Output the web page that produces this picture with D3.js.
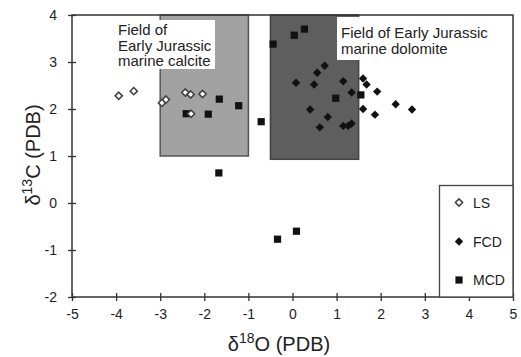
<!DOCTYPE html>
<html>
<head>
<meta charset="utf-8">
<script src="https://cdn.jsdelivr.net/npm/d3@7"></script>
<style>
  body { margin: 0; background: #fff; }
  svg text { font-family: "Liberation Sans", Arial, sans-serif; fill: #222; }
</style>
</head>
<body>
<div id="chart"></div>
<script>
// Isotope data: [d18O, d13C]
const lsPoints = [
  [-3.94, 2.28], [-3.60, 2.38], [-2.96, 2.13], [-2.87, 2.20],
  [-2.43, 2.35], [-2.31, 2.31], [-2.04, 2.32], [-2.30, 1.90]
];
const fcdPoints = [
  [0.73, 2.92], [0.56, 2.77], [0.08, 2.56], [0.49, 2.52], [1.15, 2.59],
  [1.60, 2.65], [1.68, 2.52], [1.34, 2.35], [1.92, 2.37], [2.34, 2.10],
  [2.71, 1.99], [1.60, 2.00], [1.87, 1.88], [0.40, 1.99], [0.80, 1.83],
  [0.62, 1.61], [1.15, 1.64], [1.26, 1.64], [1.34, 1.69]
];
const mcdPoints = [
  [-1.66, 2.21], [-1.22, 2.07], [-2.41, 1.90], [-1.91, 1.89], [-0.71, 1.73],
  [-1.67, 0.64], [-0.34, -0.77], [0.09, -0.60], [-0.44, 3.38], [0.04, 3.57],
  [0.27, 3.70], [0.98, 2.23], [1.55, 2.30]
];
// Reference fields: [x0, x1, y0, y1]
const calciteField = [-3, -1, 1, 4];
const dolomiteField = [-0.5, 1.5, 0.93, 4];
const xTicks = [-5, -4, -3, -2, -1, 0, 1, 2, 3, 4, 5];
const yTicks = [-2, -1, 0, 1, 2, 3, 4];
const legendItems = ['LS', 'FCD', 'MCD'];

const width = 521, height = 357;
const margin = { left: 72, right: 8, top: 15, bottom: 60 };
const font = '"Liberation Sans", Arial, sans-serif';
const fmt = d => String(d); // plain hyphen minus, as in the figure

const svg = d3.select('#chart').append('svg')
  .attr('width', width)
  .attr('height', height);

const x = d3.scaleLinear().domain([-5, 5]).range([margin.left, width - margin.right]);
const y = d3.scaleLinear().domain([-2, 4]).range([height - margin.bottom, margin.top]);

// Shaded fields
svg.append('rect')
  .attr('x', x(calciteField[0])).attr('y', y(calciteField[3]))
  .attr('width', x(calciteField[1]) - x(calciteField[0]))
  .attr('height', y(calciteField[2]) - y(calciteField[3]))
  .attr('fill', '#a2a2a2').attr('stroke', '#555').attr('stroke-width', 1.5);

svg.append('rect')
  .attr('x', x(dolomiteField[0])).attr('y', y(dolomiteField[3]))
  .attr('width', x(dolomiteField[1]) - x(dolomiteField[0]))
  .attr('height', y(dolomiteField[2]) - y(dolomiteField[3]))
  .attr('fill', '#5e5e5e').attr('stroke', '#444').attr('stroke-width', 1.5);

// Field labels on white boxes
svg.append('rect').attr('x', 115).attr('y', 20).attr('width', 100).attr('height', 49).attr('fill', '#fff');
const calciteLabel = svg.append('text').attr('x', 118).attr('y', 35).style('font-size', '15px');
['Field of', 'Early Jurassic', 'marine calcite'].forEach((t, i) => {
  calciteLabel.append('tspan').attr('x', 118).attr('dy', i ? 15.5 : 0).text(t);
});

svg.append('rect').attr('x', 337).attr('y', 17).attr('width', 170).attr('height', 43).attr('fill', '#fff');
const dolomiteLabel = svg.append('text').attr('x', 341).attr('y', 38).style('font-size', '15px');
['Field of Early Jurassic', 'marine dolomite'].forEach((t, i) => {
  dolomiteLabel.append('tspan').attr('x', 341).attr('dy', i ? 15.5 : 0).text(t);
});

// Frame
svg.append('rect')
  .attr('x', x(-5)).attr('y', y(4))
  .attr('width', x(5) - x(-5)).attr('height', y(-2) - y(4))
  .attr('fill', 'none').attr('stroke', '#333').attr('stroke-width', 1.5);

// Axes with ticks crossing the axis line
const xAxis = svg.append('g')
  .attr('transform', `translate(0,${y(-2)})`)
  .call(d3.axisBottom(x).tickValues(xTicks).tickSize(4).tickFormat(fmt));
xAxis.selectAll('line').attr('y1', -4).attr('stroke', '#333').attr('stroke-width', 1.3);
xAxis.select('.domain').remove();
xAxis.selectAll('text').attr('dy', 0).attr('y', 22).style('font-size', '14px').style('font-family', font).attr('fill', '#222');

const yAxis = svg.append('g')
  .attr('transform', `translate(${x(-5)},0)`)
  .call(d3.axisLeft(y).tickValues(yTicks).tickSize(4).tickFormat(fmt));
yAxis.selectAll('line').attr('x1', 4).attr('stroke', '#333').attr('stroke-width', 1.3);
yAxis.select('.domain').remove();
yAxis.selectAll('text').attr('x', -15).style('font-size', '14px').style('font-family', font).attr('fill', '#222');

// Axis titles
const xTitle = svg.append('text')
  .attr('x', 279).attr('y', 351)
  .attr('text-anchor', 'middle').style('font-size', '20px');
xTitle.append('tspan').text('δ');
xTitle.append('tspan').attr('dy', -8).style('font-size', '14px').text('18');
xTitle.append('tspan').attr('dy', 8).text('O (PDB)');

const yTitle = svg.append('text')
  .attr('transform', 'translate(40,155) rotate(-90)')
  .attr('text-anchor', 'middle').style('font-size', '20px');
yTitle.append('tspan').text('δ');
yTitle.append('tspan').attr('dy', -8).style('font-size', '14px').text('13');
yTitle.append('tspan').attr('dy', 8).text('C (PDB)');

// Marker helpers
const squareSym = d3.symbol().type(d3.symbolSquare).size(52);
const diamondPath = s => `M0,${-s}L${s},0L0,${s}L${-s},0Z`;

function drawSquares(g, pts) {
  g.selectAll('path.mcd').data(pts).enter().append('path')
    .attr('class', 'mcd')
    .attr('transform', d => `translate(${x(d[0])},${y(d[1])})`)
    .attr('d', squareSym).attr('fill', '#111');
}
function drawFilledDiamonds(g, pts) {
  g.selectAll('path.fcd').data(pts).enter().append('path')
    .attr('class', 'fcd')
    .attr('transform', d => `translate(${x(d[0])},${y(d[1])})`)
    .attr('d', diamondPath(4.2)).attr('fill', '#111');
}
function drawOpenDiamonds(g, pts) {
  g.selectAll('path.ls').data(pts).enter().append('path')
    .attr('class', 'ls')
    .attr('transform', d => `translate(${x(d[0])},${y(d[1])})`)
    .attr('d', diamondPath(3.6)).attr('fill', '#fff')
    .attr('stroke', '#444').attr('stroke-width', 1.6);
}

const marks = svg.append('g');
drawFilledDiamonds(marks, fcdPoints);
drawSquares(marks, mcdPoints);
drawOpenDiamonds(marks, lsPoints);

// Legend
const legend = svg.append('g');
legend.append('rect')
  .attr('x', 439.5).attr('y', 185.5)
  .attr('width', x(5) - 439.5).attr('height', y(-2) - 185.5)
  .attr('fill', '#fff').attr('stroke', '#444').attr('stroke-width', 1.3);
const legendY = [202.5, 241.5, 280];
legendItems.forEach((name, i) => {
  const g = legend.append('g').attr('transform', `translate(459,${legendY[i]})`);
  if (name === 'LS') {
    g.append('path').attr('d', diamondPath(3.6)).attr('fill', '#fff').attr('stroke', '#444').attr('stroke-width', 1.6);
  } else if (name === 'FCD') {
    g.append('path').attr('d', diamondPath(4.2)).attr('fill', '#111');
  } else {
    g.append('path').attr('d', squareSym).attr('fill', '#111');
  }
  g.append('text').attr('x', 14).attr('y', 5).style('font-size', '14px').text(name);
});
</script>
</body>
</html>
